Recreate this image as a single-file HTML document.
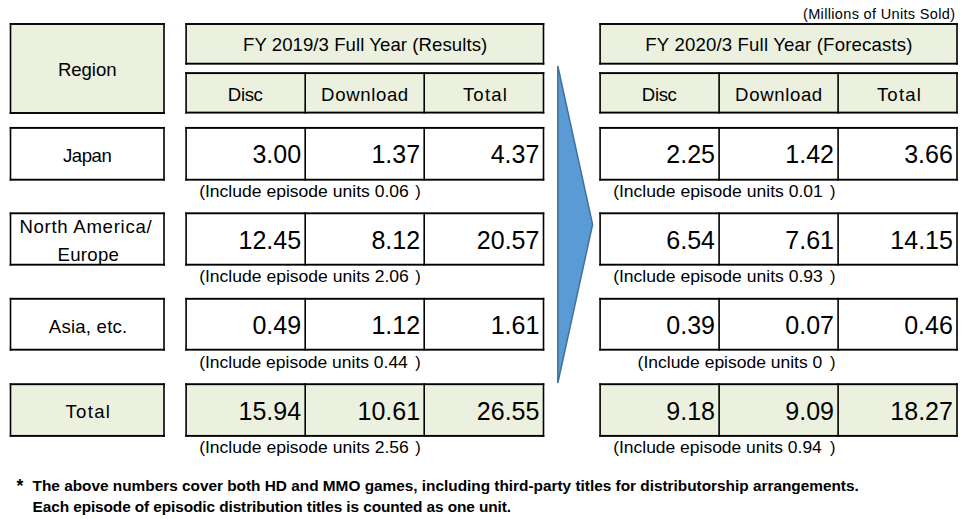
<!DOCTYPE html>
<html><head><meta charset="utf-8"><title>Units Sold</title>
<style>
html,body{margin:0;padding:0;background:#fff;}
body{width:973px;height:519px;overflow:hidden;}
svg{display:block;font-family:"Liberation Sans",sans-serif;}
</style></head><body>
<svg width="973" height="519" viewBox="0 0 973 519">
<rect x="0" y="0" width="973" height="519" fill="#fff"/>
<rect x="10.50" y="24.00" width="153.50" height="89.00" fill="#EBF1DE"/>
<rect x="9.70" y="23.05" width="155.10" height="1.9" fill="#000000"/>
<rect x="9.70" y="112.05" width="155.10" height="1.9" fill="#000000"/>
<rect x="9.70" y="23.05" width="1.6" height="90.90" fill="#000000"/>
<rect x="163.20" y="23.05" width="1.6" height="90.90" fill="#000000"/>
<rect x="186.10" y="24.00" width="357.40" height="39.70" fill="#EBF1DE"/>
<rect x="185.30" y="23.05" width="359.00" height="1.9" fill="#000000"/>
<rect x="185.30" y="62.75" width="359.00" height="1.9" fill="#000000"/>
<rect x="185.30" y="23.05" width="1.6" height="41.60" fill="#000000"/>
<rect x="542.70" y="23.05" width="1.6" height="41.60" fill="#000000"/>
<rect x="186.10" y="73.10" width="357.40" height="39.50" fill="#EBF1DE"/>
<rect x="185.30" y="72.15" width="359.00" height="1.9" fill="#000000"/>
<rect x="185.30" y="111.65" width="359.00" height="1.9" fill="#000000"/>
<rect x="185.30" y="72.15" width="1.6" height="41.40" fill="#000000"/>
<rect x="542.70" y="72.15" width="1.6" height="41.40" fill="#000000"/>
<rect x="304.40" y="72.15" width="1.6" height="41.40" fill="#000000"/>
<rect x="423.40" y="72.15" width="1.6" height="41.40" fill="#000000"/>
<rect x="600.10" y="24.00" width="356.90" height="39.70" fill="#EBF1DE"/>
<rect x="599.30" y="23.05" width="358.50" height="1.9" fill="#000000"/>
<rect x="599.30" y="62.75" width="358.50" height="1.9" fill="#000000"/>
<rect x="599.30" y="23.05" width="1.6" height="41.60" fill="#000000"/>
<rect x="956.20" y="23.05" width="1.6" height="41.60" fill="#000000"/>
<rect x="600.10" y="73.10" width="356.90" height="39.50" fill="#EBF1DE"/>
<rect x="599.30" y="72.15" width="358.50" height="1.9" fill="#000000"/>
<rect x="599.30" y="111.65" width="358.50" height="1.9" fill="#000000"/>
<rect x="599.30" y="72.15" width="1.6" height="41.40" fill="#000000"/>
<rect x="956.20" y="72.15" width="1.6" height="41.40" fill="#000000"/>
<rect x="718.30" y="72.15" width="1.6" height="41.40" fill="#000000"/>
<rect x="837.30" y="72.15" width="1.6" height="41.40" fill="#000000"/>
<rect x="10.50" y="127.90" width="153.50" height="51.80" fill="#FFFFFF"/>
<rect x="9.70" y="126.95" width="155.10" height="1.9" fill="#000000"/>
<rect x="9.70" y="178.75" width="155.10" height="1.9" fill="#000000"/>
<rect x="9.70" y="126.95" width="1.6" height="53.70" fill="#000000"/>
<rect x="163.20" y="126.95" width="1.6" height="53.70" fill="#000000"/>
<rect x="186.10" y="127.90" width="357.40" height="51.80" fill="#FFFFFF"/>
<rect x="185.30" y="126.95" width="359.00" height="1.9" fill="#000000"/>
<rect x="185.30" y="178.75" width="359.00" height="1.9" fill="#000000"/>
<rect x="185.30" y="126.95" width="1.6" height="53.70" fill="#000000"/>
<rect x="542.70" y="126.95" width="1.6" height="53.70" fill="#000000"/>
<rect x="304.40" y="126.95" width="1.6" height="53.70" fill="#000000"/>
<rect x="423.40" y="126.95" width="1.6" height="53.70" fill="#000000"/>
<rect x="600.10" y="127.90" width="356.90" height="51.80" fill="#FFFFFF"/>
<rect x="599.30" y="126.95" width="358.50" height="1.9" fill="#000000"/>
<rect x="599.30" y="178.75" width="358.50" height="1.9" fill="#000000"/>
<rect x="599.30" y="126.95" width="1.6" height="53.70" fill="#000000"/>
<rect x="956.20" y="126.95" width="1.6" height="53.70" fill="#000000"/>
<rect x="718.30" y="126.95" width="1.6" height="53.70" fill="#000000"/>
<rect x="837.30" y="126.95" width="1.6" height="53.70" fill="#000000"/>
<rect x="10.50" y="213.30" width="153.50" height="51.40" fill="#FFFFFF"/>
<rect x="9.70" y="212.35" width="155.10" height="1.9" fill="#000000"/>
<rect x="9.70" y="263.75" width="155.10" height="1.9" fill="#000000"/>
<rect x="9.70" y="212.35" width="1.6" height="53.30" fill="#000000"/>
<rect x="163.20" y="212.35" width="1.6" height="53.30" fill="#000000"/>
<rect x="186.10" y="213.30" width="357.40" height="51.40" fill="#FFFFFF"/>
<rect x="185.30" y="212.35" width="359.00" height="1.9" fill="#000000"/>
<rect x="185.30" y="263.75" width="359.00" height="1.9" fill="#000000"/>
<rect x="185.30" y="212.35" width="1.6" height="53.30" fill="#000000"/>
<rect x="542.70" y="212.35" width="1.6" height="53.30" fill="#000000"/>
<rect x="304.40" y="212.35" width="1.6" height="53.30" fill="#000000"/>
<rect x="423.40" y="212.35" width="1.6" height="53.30" fill="#000000"/>
<rect x="600.10" y="213.30" width="356.90" height="51.40" fill="#FFFFFF"/>
<rect x="599.30" y="212.35" width="358.50" height="1.9" fill="#000000"/>
<rect x="599.30" y="263.75" width="358.50" height="1.9" fill="#000000"/>
<rect x="599.30" y="212.35" width="1.6" height="53.30" fill="#000000"/>
<rect x="956.20" y="212.35" width="1.6" height="53.30" fill="#000000"/>
<rect x="718.30" y="212.35" width="1.6" height="53.30" fill="#000000"/>
<rect x="837.30" y="212.35" width="1.6" height="53.30" fill="#000000"/>
<rect x="10.50" y="298.80" width="153.50" height="50.90" fill="#FFFFFF"/>
<rect x="9.70" y="297.85" width="155.10" height="1.9" fill="#000000"/>
<rect x="9.70" y="348.75" width="155.10" height="1.9" fill="#000000"/>
<rect x="9.70" y="297.85" width="1.6" height="52.80" fill="#000000"/>
<rect x="163.20" y="297.85" width="1.6" height="52.80" fill="#000000"/>
<rect x="186.10" y="298.80" width="357.40" height="50.90" fill="#FFFFFF"/>
<rect x="185.30" y="297.85" width="359.00" height="1.9" fill="#000000"/>
<rect x="185.30" y="348.75" width="359.00" height="1.9" fill="#000000"/>
<rect x="185.30" y="297.85" width="1.6" height="52.80" fill="#000000"/>
<rect x="542.70" y="297.85" width="1.6" height="52.80" fill="#000000"/>
<rect x="304.40" y="297.85" width="1.6" height="52.80" fill="#000000"/>
<rect x="423.40" y="297.85" width="1.6" height="52.80" fill="#000000"/>
<rect x="600.10" y="298.80" width="356.90" height="50.90" fill="#FFFFFF"/>
<rect x="599.30" y="297.85" width="358.50" height="1.9" fill="#000000"/>
<rect x="599.30" y="348.75" width="358.50" height="1.9" fill="#000000"/>
<rect x="599.30" y="297.85" width="1.6" height="52.80" fill="#000000"/>
<rect x="956.20" y="297.85" width="1.6" height="52.80" fill="#000000"/>
<rect x="718.30" y="297.85" width="1.6" height="52.80" fill="#000000"/>
<rect x="837.30" y="297.85" width="1.6" height="52.80" fill="#000000"/>
<rect x="10.50" y="384.20" width="153.50" height="51.70" fill="#EBF1DE"/>
<rect x="9.70" y="383.25" width="155.10" height="1.9" fill="#000000"/>
<rect x="9.70" y="434.95" width="155.10" height="1.9" fill="#000000"/>
<rect x="9.70" y="383.25" width="1.6" height="53.60" fill="#000000"/>
<rect x="163.20" y="383.25" width="1.6" height="53.60" fill="#000000"/>
<rect x="186.10" y="384.20" width="357.40" height="51.70" fill="#EBF1DE"/>
<rect x="185.30" y="383.25" width="359.00" height="1.9" fill="#000000"/>
<rect x="185.30" y="434.95" width="359.00" height="1.9" fill="#000000"/>
<rect x="185.30" y="383.25" width="1.6" height="53.60" fill="#000000"/>
<rect x="542.70" y="383.25" width="1.6" height="53.60" fill="#000000"/>
<rect x="304.40" y="383.25" width="1.6" height="53.60" fill="#000000"/>
<rect x="423.40" y="383.25" width="1.6" height="53.60" fill="#000000"/>
<rect x="600.10" y="384.20" width="356.90" height="51.70" fill="#EBF1DE"/>
<rect x="599.30" y="383.25" width="358.50" height="1.9" fill="#000000"/>
<rect x="599.30" y="434.95" width="358.50" height="1.9" fill="#000000"/>
<rect x="599.30" y="383.25" width="1.6" height="53.60" fill="#000000"/>
<rect x="956.20" y="383.25" width="1.6" height="53.60" fill="#000000"/>
<rect x="718.30" y="383.25" width="1.6" height="53.60" fill="#000000"/>
<rect x="837.30" y="383.25" width="1.6" height="53.60" fill="#000000"/>
<path d="M557.8,66 L592.6,224.5 L557.8,383 Z" fill="#5B9BD5" stroke="#41719C" stroke-width="1.5"/>
<g fill="#000">
<text x="879.00" y="18.80" font-size="14.5" text-anchor="middle" textLength="152.00" lengthAdjust="spacing">(Millions of Units Sold)</text>
<text x="87.25" y="75.70" font-size="18.6" text-anchor="middle" textLength="58.70" lengthAdjust="spacing">Region</text>
<text x="365.10" y="50.70" font-size="18.6" text-anchor="middle" textLength="244.20" lengthAdjust="spacing">FY 2019/3 Full Year (Results)</text>
<text x="778.85" y="50.70" font-size="18.6" text-anchor="middle" textLength="267.10" lengthAdjust="spacing">FY 2020/3 Full Year (Forecasts)</text>
<text x="245.35" y="100.50" font-size="18.6" text-anchor="middle" textLength="35.10" lengthAdjust="spacing">Disc</text>
<text x="364.65" y="100.50" font-size="18.6" text-anchor="middle" textLength="87.10" lengthAdjust="spacing">Download</text>
<text x="484.90" y="100.50" font-size="18.6" text-anchor="middle" textLength="44.00" lengthAdjust="spacing">Total</text>
<text x="659.35" y="100.50" font-size="18.6" text-anchor="middle" textLength="35.10" lengthAdjust="spacing">Disc</text>
<text x="778.65" y="100.50" font-size="18.6" text-anchor="middle" textLength="87.10" lengthAdjust="spacing">Download</text>
<text x="898.90" y="100.50" font-size="18.6" text-anchor="middle" textLength="44.00" lengthAdjust="spacing">Total</text>
<text x="87.40" y="161.90" font-size="18.6" text-anchor="middle" textLength="48.80" lengthAdjust="spacing">Japan</text>
<text x="85.50" y="232.60" font-size="18.6" text-anchor="middle" textLength="132.20" lengthAdjust="spacing">North America/</text>
<text x="88.20" y="260.60" font-size="18.6" text-anchor="middle" textLength="61.40" lengthAdjust="spacing">Europe</text>
<text x="88.00" y="332.80" font-size="18.6" text-anchor="middle" textLength="78.40" lengthAdjust="spacing">Asia, etc.</text>
<text x="87.70" y="417.70" font-size="18.6" text-anchor="middle" textLength="44.40" lengthAdjust="spacing">Total</text>
<text transform="translate(408.80,196.80) scale(1.0083,1)" font-size="17.4" text-anchor="end">(Include episode units 0.06</text>
<text transform="translate(822.80,196.80) scale(1.0083,1)" font-size="17.4" text-anchor="end">(Include episode units 0.01</text>
<text transform="translate(408.80,282.40) scale(1.0083,1)" font-size="17.4" text-anchor="end">(Include episode units 2.06</text>
<text transform="translate(822.80,282.40) scale(1.0083,1)" font-size="17.4" text-anchor="end">(Include episode units 0.93</text>
<text transform="translate(407.80,367.70) scale(1.0035,1)" font-size="17.4" text-anchor="end">(Include episode units 0.44</text>
<text transform="translate(822.30,367.70) scale(1.0055,1)" font-size="17.4" text-anchor="end">(Include episode units 0</text>
<text transform="translate(408.80,452.80) scale(1.0083,1)" font-size="17.4" text-anchor="end">(Include episode units 2.56</text>
<text transform="translate(821.80,452.80) scale(1.0035,1)" font-size="17.4" text-anchor="end">(Include episode units 0.94</text>
<text x="32.60" y="490.60" font-size="15.4" text-anchor="start" textLength="826.20" lengthAdjust="spacing" font-weight="bold">The above numbers cover both HD and MMO games, including third-party titles for distributorship arrangements.</text>
<text x="32.60" y="511.50" font-size="15.4" text-anchor="start" textLength="478.40" lengthAdjust="spacing" font-weight="bold">Each episode of episodic distribution titles is counted as one unit.</text>
<text x="301.10" y="163.00" font-size="25" text-anchor="end">3.00</text>
<text x="420.10" y="163.00" font-size="25" text-anchor="end">1.37</text>
<text x="539.40" y="163.00" font-size="25" text-anchor="end">4.37</text>
<text x="715.00" y="163.00" font-size="25" text-anchor="end">2.25</text>
<text x="834.00" y="163.00" font-size="25" text-anchor="end">1.42</text>
<text x="952.90" y="163.00" font-size="25" text-anchor="end">3.66</text>
<text x="301.10" y="249.10" font-size="25" text-anchor="end">12.45</text>
<text x="420.10" y="249.10" font-size="25" text-anchor="end">8.12</text>
<text x="539.40" y="249.10" font-size="25" text-anchor="end">20.57</text>
<text x="715.00" y="249.10" font-size="25" text-anchor="end">6.54</text>
<text x="834.00" y="249.10" font-size="25" text-anchor="end">7.61</text>
<text x="952.90" y="249.10" font-size="25" text-anchor="end">14.15</text>
<text x="301.10" y="334.30" font-size="25" text-anchor="end">0.49</text>
<text x="420.10" y="334.30" font-size="25" text-anchor="end">1.12</text>
<text x="539.40" y="334.30" font-size="25" text-anchor="end">1.61</text>
<text x="715.00" y="334.30" font-size="25" text-anchor="end">0.39</text>
<text x="834.00" y="334.30" font-size="25" text-anchor="end">0.07</text>
<text x="952.90" y="334.30" font-size="25" text-anchor="end">0.46</text>
<text x="301.10" y="419.90" font-size="25" text-anchor="end">15.94</text>
<text x="420.10" y="419.90" font-size="25" text-anchor="end">10.61</text>
<text x="539.40" y="419.90" font-size="25" text-anchor="end">26.55</text>
<text x="715.00" y="419.90" font-size="25" text-anchor="end">9.18</text>
<text x="834.00" y="419.90" font-size="25" text-anchor="end">9.09</text>
<text x="952.90" y="419.90" font-size="25" text-anchor="end">18.27</text>
<text transform="translate(420.80,196.80) scale(1.0,1)" font-size="16.5" text-anchor="end">)</text>
<text transform="translate(835.40,196.80) scale(1.0,1)" font-size="16.5" text-anchor="end">)</text>
<text transform="translate(420.80,282.40) scale(1.0,1)" font-size="16.5" text-anchor="end">)</text>
<text transform="translate(835.40,282.40) scale(1.0,1)" font-size="16.5" text-anchor="end">)</text>
<text transform="translate(420.80,367.70) scale(1.0,1)" font-size="16.5" text-anchor="end">)</text>
<text transform="translate(835.40,367.70) scale(1.0,1)" font-size="16.5" text-anchor="end">)</text>
<text transform="translate(420.80,452.80) scale(1.0,1)" font-size="16.5" text-anchor="end">)</text>
<text transform="translate(835.40,452.80) scale(1.0,1)" font-size="16.5" text-anchor="end">)</text>
<text x="16.5" y="492.2" font-size="17.5" font-weight="bold">*</text>
</g>
</svg>
</body></html>
